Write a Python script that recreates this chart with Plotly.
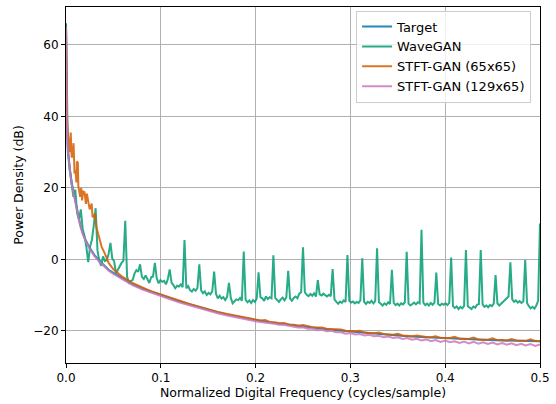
import numpy as np
import plotly.graph_objects as go

# ---------------- data ----------------
target_freq = [0, 0.0005, 0.001, 0.002, 0.003, 0.004, 0.006, 0.008, 0.010, 0.0125,
               0.015, 0.0175, 0.02, 0.025, 0.03, 0.035, 0.04, 0.045, 0.05, 0.06,
               0.07, 0.08, 0.09, 0.10, 0.11, 0.12, 0.13, 0.14, 0.15, 0.16,
               0.17, 0.18, 0.19, 0.20, 0.22, 0.24, 0.26, 0.28, 0.30, 0.32,
               0.34, 0.36, 0.38, 0.40, 0.42, 0.44, 0.46, 0.48, 0.50]
target_db = [66, 46, 37, 31, 28, 25.5, 21.5, 19, 15.8, 12.5,
             9.7, 7.5, 5.8, 3.2, 1.2, -0.3, -1.7, -2.9, -3.8, -5.4,
             -6.9, -8.1, -9.1, -10.0, -10.9, -11.8, -12.6, -13.4, -14.1, -14.8,
             -15.4, -16.0, -16.5, -17.0, -17.8, -18.5, -19.1, -19.7, -20.2, -20.7,
             -21.1, -21.5, -21.8, -22.1, -22.3, -22.5, -22.7, -22.8, -22.9]

# WaveGAN on a uniform grid of 257 bins (0 .. 0.5)
wavegan_freq = np.linspace(0, 0.5, 257)
wavegan_db = [
    66, 30, 25, 21, 17.5, 19.5, 13, 11,
    14, 8.5, 6.5, 3.5, -0.8, 3.5, 5.5, 9.5,
    14.3, 2.5, -0.5, -1.8, 0.8, -0.5, -0.2, 1.5,
    4.6, 0.2, -0.5, -3.9, -2.8, -2.1, -1.0, -0.4,
    10.8, -4.9, -6.5, -6.0, -5.8, -4.0, -3.0, -3.5,
    -1.4, -4.9, -5.5, -4.5, -5.8, -6.6, -5.0, -4.8,
    -1.0, -5.3, -6.7, -5.8, -6.3, -6.0, -7.0, -5.5,
    -2.8, -6.5, -7.2, -8.1, -7.4, -7.6, -7.0, -7.8,
    5.4, -8.1, -7.5, -8.6, -9.0, -8.3, -8.8, -8.0,
    -1.4, -8.7, -9.5, -9.0, -10.0, -9.4, -9.8, -8.9,
    -3.4, -9.6, -10.9, -10.2, -11.0, -10.6, -11.4, -10.5,
    -6.6, -10.8, -12.3, -11.6, -11.2, -11.4, -10.8, -11.6,
    2.2, -11.3, -12.0, -11.5, -12.2, -11.4, -11.9, -11.0,
    -3.6, -10.6, -10.9, -11.6, -10.4, -11.1, -10.6, -10.9,
    1.1, -10.8, -11.4, -11.9, -11.2, -10.7, -11.5, -10.6,
    -3.2, -10.9, -11.6, -10.8, -10.4, -10.9, -9.6, -9.2,
    3.4, -9.2, -9.9, -10.3, -9.7, -10.2, -9.5, -10.4,
    -5.8, -9.8, -10.1, -9.6, -10.0, -10.4, -9.9, -10.3,
    -2.7, -11.2, -11.9, -12.4, -11.8, -12.2, -11.5, -11.9,
    1.2, -11.6, -12.1, -11.8, -12.3, -11.9, -12.2, -11.5,
    0.3, -11.9, -12.5, -11.9, -12.2, -11.6, -12.3, -11.7,
    3.1, -12.0, -12.4, -12.9, -12.3, -12.7, -12.0, -12.5,
    -2.9, -12.2, -12.8, -12.4, -12.9, -12.3, -12.6, -12.0,
    2.1, -12.4, -12.9, -12.5, -12.1, -12.6, -12.0, -12.3,
    8.3, -12.1, -12.8, -12.4, -12.9, -12.2, -12.7, -12.1,
    -3.7, -12.5, -12.9, -12.4, -12.7, -12.3, -12.8, -12.2,
    0.5, -13.1, -13.6, -13.2, -13.9, -13.3, -13.7, -13.0,
    2.6, -13.1, -13.6, -13.9, -13.2, -13.5, -12.7, -12.5,
    2.6, -12.6, -13.3, -12.9, -13.4, -12.8, -13.1, -12.4,
    -4.4, -12.3, -12.9, -12.4, -12.0, -11.4, -11.0, -10.4,
    -0.8, -11.2, -11.9, -11.5, -12.1, -11.7, -12.2, -11.8,
    -0.2, -12.2, -13.1, -13.7, -13.3, -13.8, -12.9, -11.6,
    10.0,
]

fine_freq = [round(0.205 + 0.005 * k, 3) for k in range(60)]

stft65_freq = [0, 0.001, 0.002, 0.003, 0.004, 0.005, 0.006, 0.007, 0.008, 0.009,
               0.010, 0.011, 0.0115, 0.0125, 0.013, 0.014, 0.015, 0.016, 0.017, 0.018,
               0.0195, 0.021, 0.022, 0.0236, 0.025, 0.0271, 0.028, 0.0289, 0.0306, 0.032,
               0.034, 0.036, 0.0376, 0.041, 0.045, 0.05, 0.055, 0.06, 0.07, 0.08,
               0.09, 0.10, 0.11, 0.12, 0.13, 0.14, 0.15, 0.16, 0.17, 0.18,
               0.19, 0.20] + fine_freq
stft65_db = [65, 40, 35, 32, 30, 35.5, 28.5, 29, 32.5, 24,
             25, 21.5, 27.4, 27, 20.5, 19, 17.5, 20, 16.5, 19,
             18.8, 15.5, 18.4, 16, 14, 15.6, 12, 11.9, 12.8, 9,
             7.2, 5, 3.5, 1.6, -1.0, -2.8, -3.8, -5.0, -6.6, -7.9,
             -9.0, -9.8, -10.8, -11.6, -12.5, -13.3, -14.0, -14.7, -15.3, -15.8,
             -16.4, -16.9,
             -17.1, -17.0, -17.5, -17.6, -17.9, -17.8, -18.2, -18.3, -18.6, -18.4,
             -18.8, -19.0, -19.1, -19.1, -19.4, -19.5, -19.7, -19.6, -20.0, -20.1,
             -20.1, -20.0, -20.5, -20.6, -20.7, -20.5, -20.9, -21.0, -21.1, -20.8,
             -21.3, -21.4, -21.5, -21.3, -21.6, -21.7, -21.8, -21.5, -22.0, -22.0,
             -22.0, -21.7, -22.2, -22.2, -22.3, -21.9, -22.4, -22.5, -22.5, -22.1,
             -22.6, -22.6, -22.7, -22.3, -22.7, -22.8, -22.8, -22.4, -22.8, -22.9]

stft129_freq = target_freq[:34] + fine_freq
stft129_db = [65, 45, 36, 30.5, 27.5, 25, 21, 18.5, 15.4, 12.2,
              9.4, 7.2, 5.5, 2.9, 0.9, -0.6, -2.0, -3.2, -4.1, -5.7,
              -7.2, -8.4, -9.4, -10.3, -11.2, -12.1, -12.9, -13.7, -14.4, -15.1,
              -15.7, -16.3, -16.8, -17.3,
              -17.5, -17.6, -17.9, -18.0, -18.3, -18.3, -18.6, -18.8, -19.1, -19.0,
              -19.4, -19.4, -19.8, -19.7, -20.1, -20.0, -20.4, -20.4, -20.8, -20.6,
              -21.0, -20.9, -21.3, -21.1, -21.5, -21.4, -21.8, -21.6, -22.0, -21.8,
              -22.3, -22.0, -22.5, -22.2, -22.7, -22.4, -22.9, -22.6, -23.1, -22.7,
              -23.2, -22.9, -23.4, -23.0, -23.5, -23.1, -23.6, -23.2, -23.7, -23.3,
              -23.8, -23.4, -23.9, -23.5, -24.0, -23.6, -24.1, -23.7, -24.2, -23.8]

x_ticks = [0.0, 0.1, 0.2, 0.3, 0.4, 0.5]
y_ticks = [-20, 0, 20, 40, 60]

series = [
    ("Target", target_freq, target_db, "#0173b2"),
    ("WaveGAN", list(wavegan_freq), wavegan_db, "#029e73"),
    ("STFT-GAN (65x65)", stft65_freq, stft65_db, "#d55e00"),
    ("STFT-GAN (129x65)", stft129_freq, stft129_db, "#cc78bc"),
]

fig = go.Figure()
for name, fx, fy, col in series:
    fig.add_trace(go.Scatter(x=fx, y=fy, mode="lines", name=name,
                             line=dict(color=col, width=2), opacity=0.85))

font = "DejaVu Sans, Arial, sans-serif"
axis_common = dict(showgrid=True, gridcolor="#b0b0b0", gridwidth=1,
                   showline=True, linecolor="black", linewidth=1, mirror=True,
                   ticks="outside", ticklen=4, tickwidth=1, tickcolor="black",
                   zeroline=False, tickfont=dict(size=12, color="black", family=font))

fig.update_layout(
    width=556, height=404,
    margin=dict(l=66, r=11, t=6, b=41),
    paper_bgcolor="white", plot_bgcolor="white",
    font=dict(family=font, size=12, color="black"),
    xaxis=dict(range=[0, 0.5], tickvals=x_ticks, tickformat=".1f",
               title=dict(text="Normalized Digital Frequency (cycles/sample)",
                          font=dict(size=12.5), standoff=3),
               **axis_common),
    yaxis=dict(range=[-29.0, 70.6], tickvals=y_ticks,
               title=dict(text="Power Density (dB)", font=dict(size=12.5), standoff=6),
               **axis_common),
    legend=dict(x=0.612, y=0.99, xanchor="left", yanchor="top",
                bgcolor="rgba(255,255,255,0.8)", bordercolor="#cccccc", borderwidth=1,
                font=dict(size=13, family=font)),
    showlegend=True,
)

fig.write_html("out.html")
